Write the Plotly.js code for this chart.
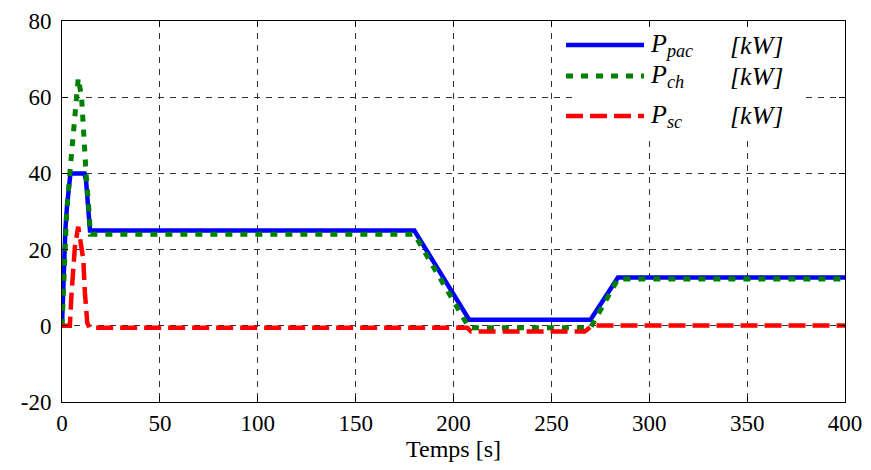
<!DOCTYPE html>
<html>
<head>
<meta charset="utf-8">
<script src="https://cdn.plot.ly/plotly-3.0.1.min.js"></script>
<style>
html,body{margin:0;padding:0;background:#fff;}
#chart{width:871px;height:470px;}
</style>
</head>
<body>
<div id="chart"></div>
<script>
// Time [s] and power [kW]
const tPac = [0, 0.5, 1, 1.7, 2.5, 3.3, 4.2, 5, 11.5, 12.3, 13.3, 14.3, 180, 208, 270, 284, 400];
const pPac = [0, 10, 18, 25, 31, 36, 39.5, 40, 40, 38, 32, 25, 25, 1.6, 1.6, 12.7, 12.7];

const tCh = [0, 0.7, 1.5, 2.4, 4, 5.8, 7.2, 8.3, 10, 11, 12.3, 13.8, 14.5, 180, 208, 270, 284, 400];
const pCh = [0, 10, 20, 30, 40, 50, 60, 65, 60, 50, 40, 30, 24, 24, -0.5, -0.5, 12.3, 12.3];

const tSc = [0, 4, 4.9, 6.6, 8.3, 10.9, 11.7, 12.9, 14, 207, 209, 267, 271, 400];
const pSc = [0, 0, 8.7, 20.8, 26, 17.3, 8.7, 0.8, -0.5, -0.5, -1.5, -1.5, 0.1, 0.1];

const seriesNames = ['P<sub>pac</sub>', 'P<sub>ch</sub>', 'P<sub>sc</sub>'];
const unitLabel = '[kW]';
const xTicks = [0, 50, 100, 150, 200, 250, 300, 350, 400];
const yTicks = [-20, 0, 20, 40, 60, 80];

const FONT = 'Times New Roman';
const colors = ['#0000ff', '#008000', '#ff0000'];
const dashes = ['solid', '7px,8px', '17px,7px'];
const widths = [4.5, 5, 4.5];

const traces = [
  {x: tPac, y: pPac, name: seriesNames[0], mode: 'lines', showlegend: false, line: {color: colors[0], width: widths[0], dash: dashes[0]}},
  {x: tCh, y: pCh, name: seriesNames[1], mode: 'lines', showlegend: false, line: {color: colors[1], width: widths[1], dash: dashes[1]}},
  {x: tSc, y: pSc, name: seriesNames[2], mode: 'lines', showlegend: false, line: {color: colors[2], width: widths[2], dash: dashes[2]}}
];

// Legend box drawn as shapes + annotations (paper coordinates of the plot area)
const rowY = [0.937, 0.8556, 0.7507];
const shapes = [
  {type: 'rect', xref: 'paper', yref: 'paper', x0: 0.658, x1: 0.949, y0: 0.696, y1: 0.969,
   fillcolor: '#fff', line: {width: 0}, layer: 'above'}
];
const annotations = [];
for (let i = 0; i < 3; i++) {
  shapes.push({type: 'line', xref: 'paper', yref: 'paper', x0: 0.6437, x1: 0.7433, y0: rowY[i], y1: rowY[i],
    line: {color: colors[i], width: widths[i], dash: dashes[i]}, layer: 'above'});
  annotations.push({xref: 'paper', yref: 'paper', x: 0.7484, y: rowY[i], xanchor: 'left', yanchor: 'middle',
    text: '<i>' + seriesNames[i] + '</i>', showarrow: false,
    font: {family: FONT, size: 26, color: '#000'}});
  annotations.push({xref: 'paper', yref: 'paper', x: 0.8506, y: rowY[i], xanchor: 'left', yanchor: 'middle',
    text: '<i>' + unitLabel + '</i>', showarrow: false,
    font: {family: FONT, size: 26, color: '#000'}});
}

function axis(extra) {
  const a = {
    showline: true, linecolor: '#000', linewidth: 1, mirror: 'ticks',
    ticks: 'inside', ticklen: 6, tickcolor: '#000', tickwidth: 1,
    showgrid: true, gridcolor: '#333', gridwidth: 1, griddash: '6px,6px',
    zeroline: false,
    tickfont: {family: FONT, size: 23, color: '#000'}
  };
  for (const k in extra) a[k] = extra[k];
  return a;
}

const layout = {
  width: 871, height: 470,
  margin: {l: 62, r: 26, t: 21, b: 68},
  paper_bgcolor: '#fff', plot_bgcolor: '#fff',
  font: {family: FONT, color: '#000'},
  showlegend: false,
  shapes: shapes,
  annotations: annotations,
  xaxis: axis({
    range: [0, 400], tickvals: xTicks, ticktext: xTicks.map(String),
    title: {text: 'Temps [s]', font: {family: FONT, size: 24, color: '#000'}, standoff: 4}
  }),
  yaxis: axis({
    range: [-20, 80], tickvals: yTicks, ticktext: yTicks.map(String),
    ticklabelstandoff: 5
  })
};

Plotly.newPlot('chart', traces, layout, {displayModeBar: false, staticPlot: true});
</script>
</body>
</html>
